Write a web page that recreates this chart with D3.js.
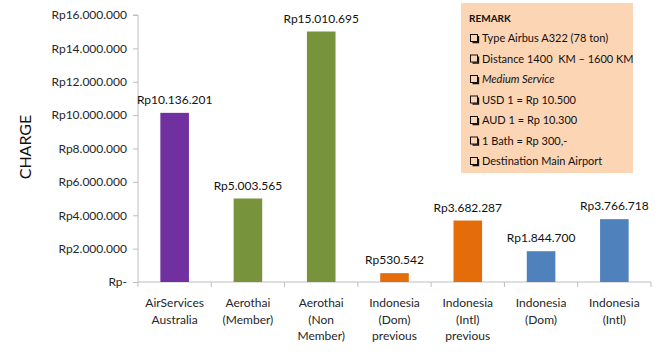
<!DOCTYPE html>
<html><head><meta charset="utf-8">
<script src="https://cdn.jsdelivr.net/npm/d3@7"></script>
<style>body{margin:0;background:#fff;} svg{display:block;font-family:Lato,"Open Sans",sans-serif;}</style>
</head><body>
<svg id="c" width="664" height="356"></svg>
<script>
const categories = [
  ["AirServices","Australia"],
  ["Aerothai","(Member)"],
  ["Aerothai","(Non","Member)"],
  ["Indonesia","(Dom)","previous"],
  ["Indonesia","(Intl)","previous"],
  ["Indonesia","(Dom)"],
  ["Indonesia","(Intl)"]
];
const values = [10136201, 5003565, 15010695, 530542, 3682287, 1844700, 3766718];
const valueLabels = ["Rp10.136.201","Rp5.003.565","Rp15.010.695","Rp530.542","Rp3.682.287","Rp1.844.700","Rp3.766.718"];
const colors = ["#7030A0","#77933C","#77933C","#E46C0A","#E46C0A","#4F81BD","#4F81BD"];
const yTicks = [0,2000000,4000000,6000000,8000000,10000000,12000000,14000000,16000000];
const yTickLabels = ["Rp-","Rp2.000.000","Rp4.000.000","Rp6.000.000","Rp8.000.000","Rp10.000.000","Rp12.000.000","Rp14.000.000","Rp16.000.000"];
const remarkTitle = "REMARK";
const remarks = [
  {t:"Type Airbus A322 (78 ton)"},
  {t:"Distance 1400\u00a0 KM \u2013 1600 KM"},
  {t:"Medium Service", italic:true},
  {t:"USD 1 = Rp 10.500"},
  {t:"AUD 1 = Rp 10.300"},
  {t:"1 Bath = Rp 300,-"},
  {t:"Destination Main Airport"}
];

const svg = d3.select("#c");
const pL = 138, pR = 651, pT = 15, pB = 282;
const x = d3.scaleBand().domain(d3.range(categories.length)).range([pL, pR]).paddingInner(0.61).paddingOuter(0.305);
const y = d3.scaleLinear().domain([0,16000000]).range([pB, pT]);
const axisColor = "#BFBFBF";
const txt = "#262626";

// y axis
const ya = svg.append("g").attr("transform",`translate(${pL},0)`)
  .call(d3.axisLeft(y).tickValues(yTicks).tickSize(5).tickPadding(6).tickFormat((d,i)=>yTickLabels[i]));
ya.select(".domain").attr("stroke",axisColor).attr("d",`M-5,${pT}H0V${pB}`);
ya.selectAll(".tick line").attr("stroke",axisColor);
ya.selectAll(".tick text").attr("fill",txt).style("font-size","12px").style("font-family","Lato");

// x axis
const band = (pR-pL)/categories.length;
const xa = svg.append("g").attr("transform",`translate(0,${pB})`);
xa.append("path").attr("d",`M${pL},0H${pR}`).attr("stroke",axisColor).attr("fill","none");
d3.range(categories.length+1).forEach(i=>{
  xa.append("line").attr("x1",pL+i*band).attr("x2",pL+i*band).attr("y1",0).attr("y2",5).attr("stroke",axisColor);
});
categories.forEach((lines,i)=>{
  const t = xa.append("text").attr("text-anchor","middle").attr("fill",txt)
    .style("font-size","12px");
  lines.forEach((l,j)=>{
    t.append("tspan").attr("x",x(i)+x.bandwidth()/2).attr("y",25+j*16.7).text(l);
  });
});

// bars
svg.append("g").selectAll("rect").data(values).join("rect")
  .attr("x",(d,i)=>x(i)).attr("width",x.bandwidth())
  .attr("y",d=>y(d)).attr("height",d=>pB-y(d))
  .attr("fill",(d,i)=>colors[i]);

// value labels
svg.append("g").selectAll("text").data(values).join("text")
  .attr("x",(d,i)=>x(i)+x.bandwidth()/2).attr("y",d=>y(d)-9)
  .attr("text-anchor","middle").attr("fill","#111").style("font-size","12px")
  .text((d,i)=>valueLabels[i]);

// y label
svg.append("text").attr("transform","translate(31,147) rotate(-90)")
  .attr("text-anchor","middle").attr("fill","#111").style("font-size","16px").text("CHARGE");

// remark box
const rb = svg.append("g");
rb.append("rect").attr("x",461).attr("y",3).attr("width",172).attr("height",170).attr("fill","#FCD5B5");
rb.append("text").attr("x",469).attr("y",22).style("font-size","10px").style("font-weight","bold").attr("fill","#111").text(remarkTitle);
remarks.forEach((r,i)=>{
  const yy = 42 + i*20.5;
  rb.append("rect").attr("x",470.5).attr("y",yy-7.5).attr("width",7).attr("height",7).attr("fill","none").attr("stroke","#111").attr("stroke-width",1);
  rb.append("path").attr("d",`M472.5,${yy+0.5}H478.5V${yy-6}`).attr("fill","none").attr("stroke","#111").attr("stroke-width",1.3);
  rb.append("text").attr("x",482).attr("y",yy).style("font-size","11px")
    .style("font-style",r.italic?"italic":"normal").attr("fill","#111").text(r.t);
});
</script>
</body></html>
